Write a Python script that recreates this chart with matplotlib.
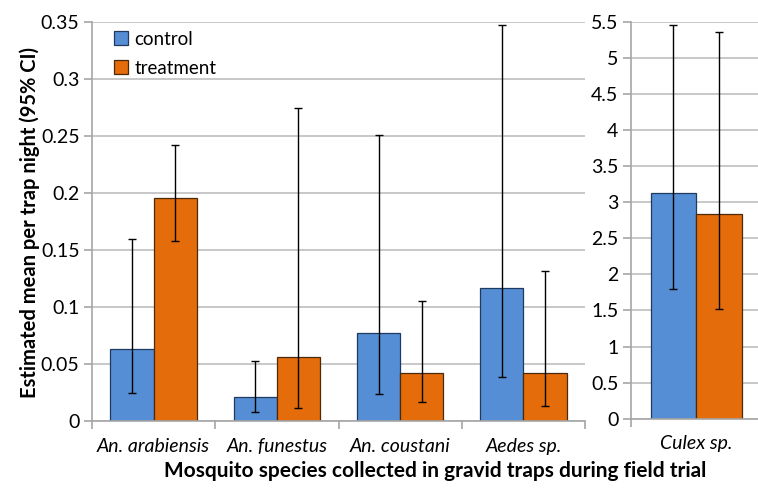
import matplotlib
matplotlib.use("Agg")
import matplotlib.pyplot as plt
import numpy as np

categories = ["An. arabiensis", "An. funestus", "An. coustani", "Aedes sp."]
control = [0.063, 0.021, 0.077, 0.117]
control_lo = [0.025, 0.008, 0.024, 0.039]
control_hi = [0.160, 0.053, 0.251, 0.347]
treatment = [0.196, 0.056, 0.042, 0.042]
treatment_lo = [0.158, 0.011, 0.017, 0.013]
treatment_hi = [0.242, 0.275, 0.105, 0.132]

culex_label = ["Culex sp."]
culex_control = [3.12]
culex_control_lo = [1.79]
culex_control_hi = [5.45]
culex_treatment = [2.83]
culex_treatment_lo = [1.52]
culex_treatment_hi = [5.36]

left_ticks = [0, 0.05, 0.1, 0.15, 0.2, 0.25, 0.3, 0.35]
left_ticklabels = ["0", "0.05", "0.1", "0.15", "0.2", "0.25", "0.3", "0.35"]
right_ticks = [0, 0.5, 1, 1.5, 2, 2.5, 3, 3.5, 4, 4.5, 5, 5.5]
right_ticklabels = ["0", "0.5", "1", "1.5", "2", "2.5", "3", "3.5", "4", "4.5", "5", "5.5"]

plt.rcParams['font.family'] = ['Lato', 'DejaVu Sans']

BLUE = "#558ED5"
ORANGE = "#E46C0A"
GRID = "#BFBFBF"
SPINE = "#A6A6A6"

W, H = 758, 491
fig = plt.figure(figsize=(W / 100, H / 100), dpi=100)

def px(x0, x1, ytop, ybot):
    return [x0 / W, (H - ybot) / H, (x1 - x0) / W, (ybot - ytop) / H]

def style(ax, ticks, labels, ymax, n):
    ax.set_ylim(0, ymax)
    ax.set_xlim(0, n)
    ax.set_yticks(ticks)
    ax.set_yticklabels(labels, fontsize=14, color="#000000")
    ax.yaxis.grid(True, color=GRID, linewidth=1.2)
    ax.set_axisbelow(True)
    for s in ["top", "right"]:
        ax.spines[s].set_visible(False)
    for s in ["left", "bottom"]:
        ax.spines[s].set_color(SPINE)
        ax.spines[s].set_linewidth(1.2)
    ax.tick_params(axis="y", direction="out", length=6, color=SPINE, width=1.2, pad=3)
    ax.set_xticks(np.arange(0, n + 1))
    ax.set_xticklabels([])
    ax.tick_params(axis="x", which="major", direction="out", length=6, color=SPINE, width=1.2)

def bars(ax, n, c, clo, chi, t, tlo, thi, labels):
    x = np.arange(n) + 0.5
    w = 0.35
    c = np.array(c); t = np.array(t)
    ax.bar(x - w / 2, c, w, color=BLUE, edgecolor="#1F3A5F", linewidth=0.9, label="control", zorder=2)
    ax.bar(x + w / 2, t, w, color=ORANGE, edgecolor="#4A2A0A", linewidth=0.9, label="treatment", zorder=2)
    ax.errorbar(x - w / 2, c, yerr=[c - np.array(clo), np.array(chi) - c], fmt="none",
                ecolor="black", elinewidth=1.0, capsize=3, capthick=1.0, zorder=3)
    ax.errorbar(x + w / 2, t, yerr=[t - np.array(tlo), np.array(thi) - t], fmt="none",
                ecolor="black", elinewidth=1.0, capsize=3, capthick=1.0, zorder=3)
    ax.set_xticks(x, minor=True)
    ax.set_xticklabels(labels, minor=True, fontsize=14, style="italic")
    ax.tick_params(axis="x", which="minor", length=0, pad=12)

ax1 = fig.add_axes(px(92, 585, 22, 421))
style(ax1, left_ticks, left_ticklabels, 0.35, len(categories))
bars(ax1, len(categories), control, control_lo, control_hi, treatment, treatment_lo, treatment_hi, categories)

ax2 = fig.add_axes(px(631, 761, 21.7, 418.7))
style(ax2, right_ticks, right_ticklabels, 5.5, 1)
bars(ax2, 1, culex_control, culex_control_lo, culex_control_hi, culex_treatment, culex_treatment_lo, culex_treatment_hi, culex_label)

leg = ax1.legend(loc="upper left", bbox_to_anchor=(0.01, 1.02), frameon=False, fontsize=13.5,
                 handlelength=0.75, handleheight=0.75, handletextpad=0.35, labelspacing=0.62)

fig.text(30 / W, 1 - 222 / H, "Estimated mean per trap night (95% CI)", rotation=90,
         ha="center", va="center", fontsize=14.5, fontweight="bold")
fig.text(435 / W, 1 - 471 / H, "Mosquito species collected in gravid traps during field trial",
         ha="center", va="center", fontsize=15, fontweight="bold")

fig.savefig("out.png", dpi=100)
